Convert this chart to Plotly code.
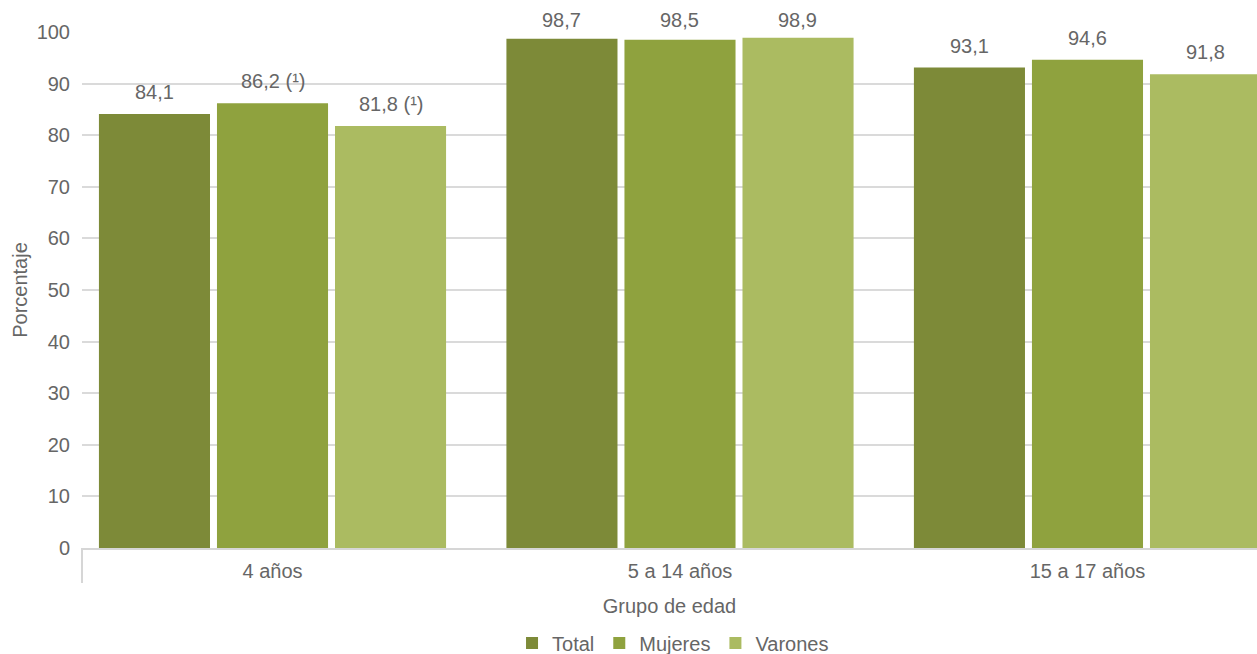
import plotly.graph_objects as go

categories = ["4 años", "5 a 14 años", "15 a 17 años"]
series_names = ["Total", "Mujeres", "Varones"]
total = [84.1, 98.7, 93.1]
mujeres = [86.2, 98.5, 94.6]
varones = [81.8, 98.9, 91.8]
total_labels = ["84,1", "98,7", "93,1"]
mujeres_labels = ["86,2 (¹)", "98,5", "94,6"]
varones_labels = ["81,8 (¹)", "98,9", "91,8"]
colors = ["#7d8a38", "#8fa23e", "#abbb61"]
y_ticks = [0, 10, 20, 30, 40, 50, 60, 70, 80, 90, 100]

FONT = "Liberation Sans, Arial, Helvetica, sans-serif"
TXT = "#666666"
FS = 20

W, H = 1257, 654
ML, MR, MT, MB = 82, 0, 32, 106
plot_h = H - MT - MB
px_per_unit = plot_h / 100.0
slot_px = 118  # distance between bar centres inside a group

fig = go.Figure()
all_vals = [total, mujeres, varones]
all_labs = [total_labels, mujeres_labels, varones_labels]
for i, (name, vals, labs, col) in enumerate(zip(series_names, all_vals, all_labs, colors)):
    fig.add_trace(go.Bar(
        name=name, x=categories, y=vals,
        marker=dict(color=col, line=dict(width=0)),
    ))
    for cat, v, lab in zip(categories, vals, labs):
        # keep labels inside the chart top, as the original does
        shift = min(9, (100 - v) * px_per_unit - 1)
        fig.add_annotation(
            x=cat, y=v, xref="x", yref="y", text=lab, showarrow=False,
            xanchor="center", yanchor="bottom", xshift=(i - 1) * slot_px, yshift=shift,
            font=dict(family=FONT, size=FS, color=TXT),
        )

fig.update_layout(
    width=W, height=H,
    margin=dict(l=ML, r=MR, t=MT, b=MB, autoexpand=False),
    paper_bgcolor="white", plot_bgcolor="white",
    barmode="group", bargap=0.131, bargroupgap=0.059,
    font=dict(family=FONT, size=FS, color=TXT),
    showlegend=True,
    legend=dict(orientation="h", x=0.503, xanchor="center", y=-0.184, yanchor="middle",
                font=dict(family=FONT, size=FS, color=TXT),
                itemwidth=30, tracegroupgap=0, bgcolor="rgba(0,0,0,0)"),
)
fig.update_xaxes(
    type="category", range=[-0.4675, 2.416], automargin=False,
    showgrid=False, showline=True, linecolor="#d6d6d6", linewidth=2,
    ticks="", ticklabelstandoff=4, tickfont=dict(family=FONT, size=FS, color=TXT),
    title=dict(text="Grupo de edad", font=dict(family=FONT, size=FS, color=TXT), standoff=18),
)
fig.update_yaxes(
    range=[0, 100], tickvals=y_ticks, ticktext=[str(v) for v in y_ticks], automargin=False,
    showgrid=True, gridcolor="#dadada", gridwidth=1.5,
    zeroline=False, showline=False, ticks="",
    tickfont=dict(family=FONT, size=FS, color=TXT), ticklabelstandoff=11,
    title=dict(text="Porcentaje", font=dict(family=FONT, size=FS, color=TXT), standoff=3),
)
fig.add_shape(type="line", xref="paper", yref="paper", x0=0, x1=0, y0=0, y1=-35 / plot_h,
              line=dict(color="#d6d6d6", width=2))

fig.write_html(
    "out.html",
    config={"displayModeBar": False},
    post_script="document.body.style.margin='0';document.body.style.overflow='hidden';",
)
